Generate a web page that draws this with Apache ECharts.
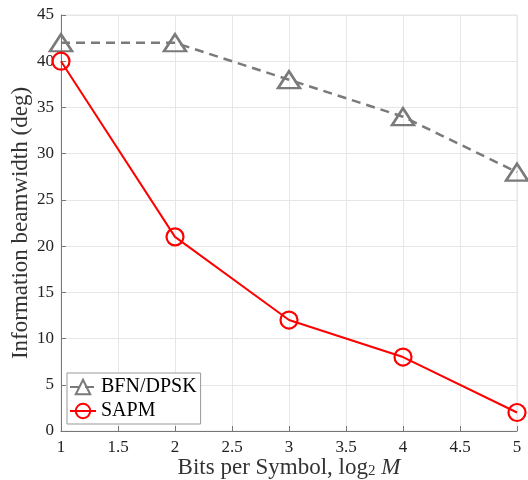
<!DOCTYPE html>
<html><head><meta charset="utf-8">
<script src="https://cdn.jsdelivr.net/npm/echarts@6/dist/echarts.min.js"></script>
<style>html,body{margin:0;padding:0;background:#fff}#c{width:528px;height:480px}</style>
</head><body><div id="c"></div>
<script>
const xValues = [1, 2, 3, 4, 5];
const bfnDpsk = [42, 42, 38, 34, 28];
const sapm = [40, 21, 12, 8, 2];
const seriesNames = ['BFN/DPSK', 'SAPM'];

const chart = echarts.init(document.getElementById('c'));
const font = 'Liberation Serif, Times New Roman, serif';
chart.setOption({
  animation: false,
  backgroundColor: '#fff',
  grid: {left: 61, right: 11, top: 15, bottom: 49, show: true, borderColor: '#e6e6e6', borderWidth: 1,
         outerBoundsMode: 'none', containLabel: false},
  legend: {
    left: 67, top: 373, orient: 'vertical', itemGap: 4, itemWidth: 26, itemHeight: 18,
    backgroundColor: '#fff', borderColor: '#999', borderWidth: 1, padding: [4, 4, 3, 2],
    textStyle: {fontFamily: font, fontSize: 20, color: '#000'},
    data: seriesNames
  },
  xAxis: {
    type: 'value', min: 1, max: 5, interval: 0.5,
    name: '{n|Bits per Symbol, log}{s|2}{n| }{i|M}', nameLocation: 'middle', nameGap: 25,
    nameMoveOverlap: false,
    nameTextStyle: {rich: {
      n: {fontFamily: font, fontSize: 23, color: '#333'},
      s: {fontFamily: font, fontSize: 15, color: '#333', padding: [8, 0, 0, 0]},
      i: {fontFamily: font, fontSize: 23, color: '#333', fontStyle: 'italic'}
    }},
    axisLine: {lineStyle: {color: '#777', width: 1}},
    axisTick: {show: true, inside: true, length: 5, lineStyle: {color: '#777'}},
    axisLabel: {fontFamily: font, fontSize: 17, color: '#222', margin: 8},
    splitLine: {lineStyle: {color: '#e6e6e6'}}
  },
  yAxis: {
    type: 'value', min: 0, max: 45, interval: 5,
    name: 'Information beamwidth (deg)', nameLocation: 'middle', nameGap: 29,
    nameMoveOverlap: false,
    nameTextStyle: {fontFamily: font, fontSize: 23, color: '#333'},
    axisLine: {show: true, lineStyle: {color: '#777', width: 1}},
    axisTick: {show: true, inside: true, length: 5, lineStyle: {color: '#777'}},
    axisLabel: {fontFamily: font, fontSize: 17, color: '#222', margin: 7},
    splitLine: {lineStyle: {color: '#e6e6e6'}}
  },
  series: [
    {
      name: seriesNames[0], type: 'line',
      data: xValues.map((x, i) => [x, bfnDpsk[i]]),
      symbol: 'triangle', symbolSize: [22, 17],
      lineStyle: {color: '#7a7a7a', width: 2.5, type: [9, 6]},
      itemStyle: {color: 'rgba(0,0,0,0)', borderColor: '#7a7a7a', borderWidth: 2.5},
      z: 2
    },
    {
      name: seriesNames[1], type: 'line',
      data: xValues.map((x, i) => [x, sapm[i]]),
      symbol: 'circle', symbolSize: 17,
      lineStyle: {color: '#ff0000', width: 2},
      itemStyle: {color: 'rgba(0,0,0,0)', borderColor: '#ff0000', borderWidth: 2.2},
      z: 3
    }
  ]
});
</script></body></html>
